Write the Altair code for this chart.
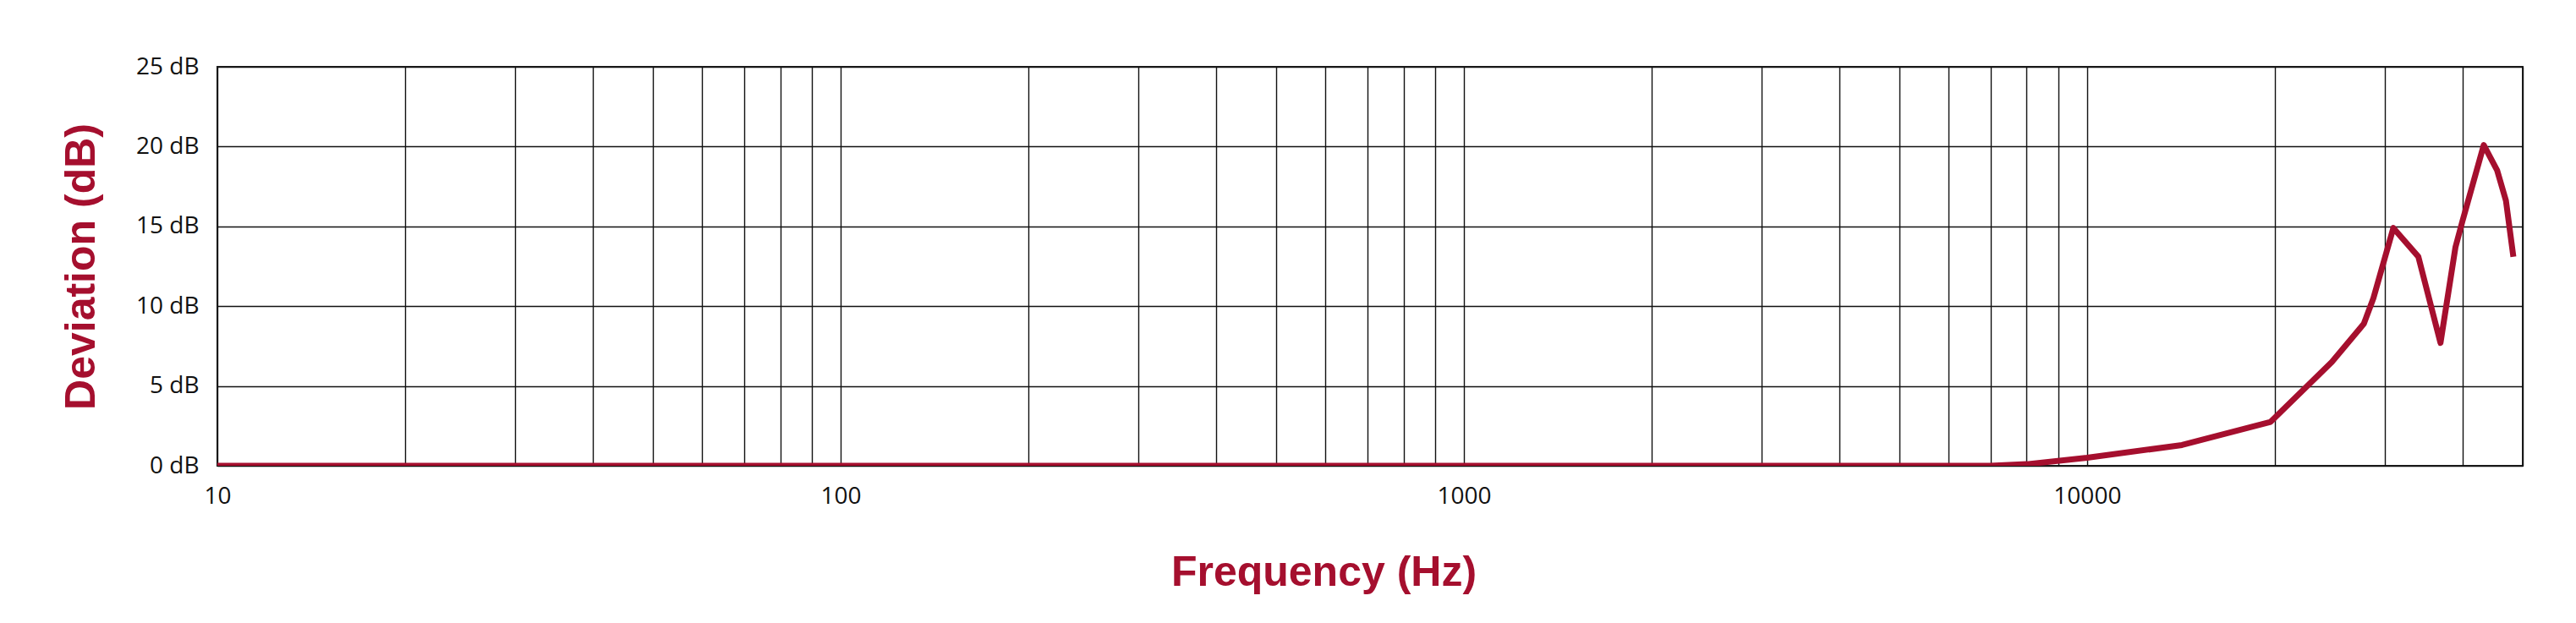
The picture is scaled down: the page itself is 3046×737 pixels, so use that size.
import altair as alt
import pandas as pd

# ---- data ----
freq_hz = [10, 7000, 8000, 10000, 14200, 19700, 24700, 27800, 28800, 31000,
           34000, 36900, 39000, 40000, 43300, 45500, 47000, 48300]
deviation_db = [0, 0, 0.1, 0.5, 1.3, 2.75, 6.5, 8.9, 10.5, 14.9,
                13.1, 7.7, 13.7, 15.3, 20.1, 18.5, 16.6, 13.1]

x_grid = [10, 20, 30, 40, 50, 60, 70, 80, 90,
          100, 200, 300, 400, 500, 600, 700, 800, 900,
          1000, 2000, 3000, 4000, 5000, 6000, 7000, 8000, 9000,
          10000, 20000, 30000, 40000, 50000]
x_labels = [10, 100, 1000, 10000]
y_ticks = [0, 5, 10, 15, 20, 25]

RED = "#A50F2E"

df = pd.DataFrame({"f": freq_hz, "db": deviation_db})

label_list = "[" + ",".join(str(v) for v in x_labels) + "]"

line = alt.Chart(df).mark_line(
    color=RED, strokeWidth=7, strokeJoin="round", strokeCap="butt", clip=True
).encode(
    x=alt.X("f:Q",
            scale=alt.Scale(type="log", domain=[10, 50000], nice=False),
            axis=alt.Axis(
                values=x_grid,
                labelExpr=f"indexof({label_list}, datum.value) >= 0 ? '' + datum.value : ''",
                labelOverlap=False,
                labelFlush=False,
                labelPadding=22,
                labelFontSize=28,
                labelFont="Open Sans",
                labelColor="#111111",
                ticks=False,
                domain=False,
                grid=True,
                gridColor="#111111",
                gridWidth=1.4,
                gridOpacity=1,
                title="Frequency (Hz)",
                titleFont="Liberation Sans",
                titleFontSize=50,
                titleFontWeight="bold",
                titleColor=RED,
                titleX=1308,
                titleY=141,
                titleBaseline="alphabetic",
                titleAlign="center",
                titleAngle=0,
            )),
    y=alt.Y("db:Q",
            scale=alt.Scale(domain=[0, 25], nice=False, zero=True),
            axis=alt.Axis(
                values=y_ticks,
                labelExpr="datum.value + ' dB'",
                labelFlush=False,
                labelPadding=22,
                labelFontSize=28,
                labelFont="Open Sans",
                labelColor="#111111",
                labelBaseline="middle",
                ticks=False,
                domain=False,
                grid=True,
                gridColor="#111111",
                gridWidth=1.4,
                gridOpacity=1,
                title="Deviation (dB)",
                titleFont="Liberation Sans",
                titleFontSize=50,
                titleFontWeight="bold",
                titleColor=RED,
                titleX=-146,
                titleY=236,
                titleAngle=270,
                titleBaseline="alphabetic",
                titleAlign="center",
            )),
).properties(
    width=2726,
    height=472,
    autosize=alt.AutoSizeParams(type="none"),
    padding={"left": 249, "top": 71, "right": 40, "bottom": 175},
    background="white",
).configure_view(
    stroke="#222222",
    strokeWidth=2,
)

line.save("out.html", embed_options={"renderer": "svg", "actions": False})
